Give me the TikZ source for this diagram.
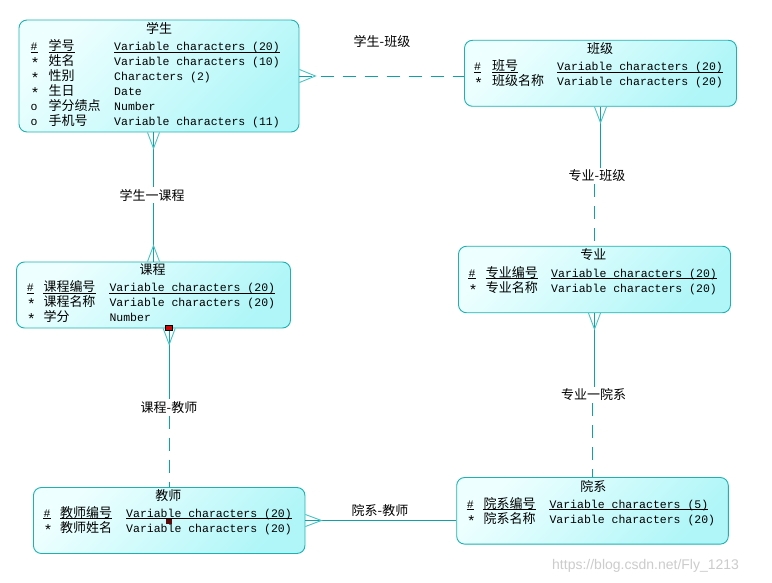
\documentclass[tikz,border=0pt]{standalone}
\usepackage{fontspec}
\setmainfont{Liberation Sans}
\setmonofont{Liberation Mono}
\newfontfamily\cjk{Noto Sans CJK SC}
\usetikzlibrary{calc}
\definecolor{edgec}{RGB}{28,178,178}
\definecolor{linec}{RGB}{16,160,168}
\definecolor{crowc}{RGB}{70,194,196}
\definecolor{boxlight}{RGB}{238,255,255}
\definecolor{boxdark}{RGB}{176,246,248}
\definecolor{redm}{RGB}{200,10,10}
\definecolor{darkm}{RGB}{90,12,12}
\newcommand\erow[8]{%
  \node[mk] (#1m) at (#2,#5) {#6};
  \node[nm] (#1n) at (#3,#5) {#7};
  \node[mk] (#1t) at (#4,#5) {#8};}
\newcommand\pkrow[8]{\erow{#1}{#2}{#3}{#4}{#5}{#6}{#7}{#8}%
  \foreach \s in {m,n,t}{\draw[ul] ([yshift=-1.6pt]#1\s.base west) -- ([yshift=-1.6pt]#1\s.base east);}}
\newcommand\astk{\raisebox{-3pt}{\fontsize{15}{15}\selectfont *}}
\begin{document}
\begin{tikzpicture}[x=1pt,y=-1pt,
  entity/.style={draw=edgec, line width=0.9pt, rounded corners=8pt,
    top color=boxlight, bottom color=boxdark, shading angle=45, inner sep=0pt},
  ttl/.style={font=\cjk\fontsize{13}{13}\selectfont, inner sep=0pt},
  mk/.style={anchor=base west, font=\ttfamily\fontsize{11.5}{12}\selectfont, inner sep=0pt},
  nm/.style={anchor=base west, font=\cjk\fontsize{13}{13}\selectfont, inner sep=0pt},
  ul/.style={draw=black, line width=0.7pt},
  rel/.style={draw=linec, line width=0.9pt},
  opt/.style={rel, dash pattern=on 13pt off 9pt},
  crow/.style={draw=crowc, line width=0.9pt},
  lbl/.style={font=\cjk\fontsize{13}{13}\selectfont, fill=white, inner sep=2pt},
  mark1/.style={draw=black, line width=0.5pt, fill=redm, minimum width=6.5pt, minimum height=5pt, inner sep=0pt},
  mark2/.style={fill=darkm, minimum width=6pt, minimum height=5pt, inner sep=0pt},
]
\fill[white] (0,0) rectangle (772,583);
\useasboundingbox (0,0) rectangle (772,583);

% entities
\node[entity, minimum width=280pt, minimum height=112pt] (xs) at (159,76) {};
\node[entity, minimum width=272pt, minimum height=66pt] (bj) at (600.5,73.3) {};
\node[entity, minimum width=274pt, minimum height=66pt] (kc) at (153.5,295) {};
\node[entity, minimum width=271.5pt, minimum height=66pt] (js) at (169.2,520.5) {};
\node[entity, minimum width=272pt, minimum height=66.5pt] (zy) at (594.5,279.5) {};
\node[entity, minimum width=271.6pt, minimum height=66.6pt] (yx) at (592.5,510.8) {};

% titles
\node[ttl] (xsT) at (159,28.3) {学生};
\node[ttl] (bjT) at (600,49) {班级};
\node[ttl] (kcT) at (152.7,269.5) {课程};
\node[ttl] (jsT) at (168.3,496) {教师};
\node[ttl] (zyT) at (593.3,255) {专业};
\node[ttl] (yxT) at (593.3,486.7) {院系};

% 学生 rows
\pkrow{xsA}{30.5}{48.5}{114}{51}{\#}{学号}{Variable characters (20)}
\erow{xsB}{30.5}{48.5}{114}{66}{\astk}{姓名}{Variable characters (10)}
\erow{xsC}{30.5}{48.5}{114}{81}{\astk}{性别}{Characters (2)}
\erow{xsD}{30.5}{48.5}{114}{96}{\astk}{生日}{Date}
\erow{xsE}{30.5}{48.5}{114}{111}{o}{学分绩点}{Number}
\erow{xsF}{30.5}{48.5}{114}{126}{o}{手机号}{Variable characters (11)}

% 班级 rows
\pkrow{bjA}{474}{492}{557}{70.5}{\#}{班号}{Variable characters (20)}
\erow{bjB}{474}{492}{557}{85.5}{\astk}{班级名称}{Variable characters (20)}

% 课程 rows
\pkrow{kcA}{26.7}{43.3}{109.3}{291.5}{\#}{课程编号}{Variable characters (20)}
\erow{kcB}{26.7}{43.3}{109.3}{306.5}{\astk}{课程名称}{Variable characters (20)}
\erow{kcC}{26.7}{43.3}{109.3}{321.5}{\astk}{学分}{Number}

% 教师 rows
\pkrow{jsA}{43.3}{60}{126}{517}{\#}{教师编号}{Variable characters (20)}
\erow{jsB}{43.3}{60}{126}{532}{\astk}{教师姓名}{Variable characters (20)}

% 专业 rows
\pkrow{zyA}{468.3}{485.7}{551}{277}{\#}{专业编号}{Variable characters (20)}
\erow{zyB}{468.3}{485.7}{551}{292}{\astk}{专业名称}{Variable characters (20)}

% 院系 rows
\pkrow{yxA}{466.7}{483.3}{549.3}{508}{\#}{院系编号}{Variable characters (5)}
\erow{yxB}{466.7}{483.3}{549.3}{523}{\astk}{院系名称}{Variable characters (20)}

% labels
\node[lbl] (l1) at (382,41.7) {学生-班级};
\node[lbl] (l2) at (152,195) {学生一课程};
\node[lbl] (l3) at (169,407.3) {课程-教师};
\node[lbl] (l4) at (597,176) {专业-班级};
\node[lbl] (l5) at (593.5,395) {专业一院系};
\node[lbl] (l6) at (380,510.7) {院系-教师};

% 学生-班级
\draw[opt] (xs.east) -- (bj.west |- xs.east);
\draw[crow] ([yshift=6.5pt]xs.east) -- ([xshift=16pt]xs.east) -- ([yshift=-6.5pt]xs.east);
% 学生-课程
\coordinate (p1) at (xs.south -| kc.north);
\draw[rel] (p1) -- (p1 |- l2.north);
\draw[rel] (kc.north |- l2.south) -- (kc.north);
\draw[crow] ([xshift=-6pt]p1) -- ([yshift=-16pt]p1) -- ([xshift=6pt]p1);
\draw[crow] ([xshift=-6pt]kc.north) -- ([yshift=16pt]kc.north) -- ([xshift=6pt]kc.north);
% 专业-班级
\draw[rel] (bj.south) -- (bj.south |- l4.north);
\draw[opt] (zy.north |- l4.south) -- (zy.north);
\draw[crow] ([xshift=-6pt]bj.south) -- ([yshift=-16pt]bj.south) -- ([xshift=6pt]bj.south);
% 专业-院系
\draw[rel] (zy.south) -- (zy.south |- l5.north);
\draw[opt] (yx.north |- l5.south) -- (yx.north);
\draw[crow] ([xshift=-6pt]zy.south) -- ([yshift=-16pt]zy.south) -- ([xshift=6pt]zy.south);
% 课程-教师
\coordinate (p2) at (kc.south -| js.north);
\draw[rel] (p2) -- (p2 |- l3.north);
\draw[opt] (js.north |- l3.south) -- (js.north);
\draw[crow] ([xshift=-6pt]p2) -- ([yshift=-16pt]p2) -- ([xshift=6pt]p2);
% 院系-教师
\draw[rel] (js.east) -- (yx.west |- js.east);
\draw[crow] ([yshift=6pt]js.east) -- ([xshift=16pt]js.east) -- ([yshift=-6pt]js.east);

% small markers
\node[mark1] (m1) at (168.7,328) {};
\node[mark2] (m2) at (169,521.5) {};

% watermark
\node[anchor=west, font=\fontsize{14}{14}\selectfont, text=black!20, inner sep=0pt] (wm) at (552,566) {https://blog.csdn.net/Fly\_1213};
\end{tikzpicture}
\end{document}
